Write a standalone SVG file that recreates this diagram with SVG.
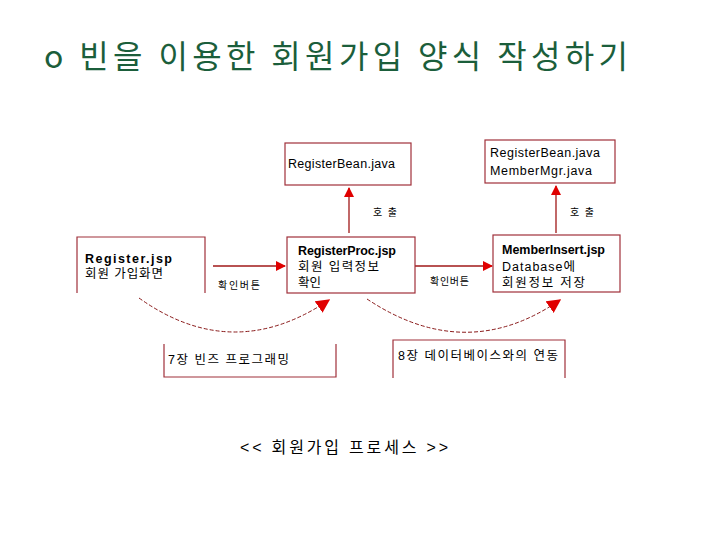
<svg xmlns="http://www.w3.org/2000/svg" width="720" height="540" viewBox="0 0 720 540">
<defs>
<style>
.t{font-family:"Liberation Sans","Noto Sans CJK KR",sans-serif;font-size:12.5px;fill:#000}
.s{font-size:10px}
.b{font-weight:bold}
.box{fill:#fff;stroke:#a0303a;stroke-width:1.2}
.open{fill:none;stroke:#a0303a;stroke-width:1.2}
.arr{stroke:#a01818;stroke-width:1.3;fill:none}
.curve{stroke:#8a1a1a;stroke-width:1;fill:none;stroke-dasharray:4 2}
</style>
<marker id="ah" viewBox="0 0 10 10" refX="9" refY="5" markerWidth="10" markerHeight="10" markerUnits="userSpaceOnUse" orient="auto">
<path d="M0,0 L10,5 L0,10 z" fill="#e00000"/>
</marker>
<marker id="ah2" viewBox="0 0 10 10" refX="9" refY="5" markerWidth="14" markerHeight="14" markerUnits="userSpaceOnUse" orient="auto">
<path d="M0,0 L10,5 L0,10 z" fill="#e00000"/>
</marker>
</defs>
<rect width="720" height="540" fill="#fff"/>
<text x="44" y="68" textLength="584" lengthAdjust="spacing" style="font-family:'Noto Sans CJK KR',sans-serif;font-size:32px;fill:#1b5e3b">o 빈을 이용한 회원가입 양식 작성하기</text>

<g id="connectors">
<line class="arr" x1="349" y1="233" x2="349" y2="188" marker-end="url(#ah)"/>
<line class="arr" x1="556" y1="233" x2="556" y2="186" marker-end="url(#ah)"/>
<line class="arr" x1="213" y1="266" x2="285" y2="266" marker-end="url(#ah)"/>
<line class="arr" x1="415" y1="266" x2="492" y2="266" marker-end="url(#ah)"/>
<path class="curve" d="M139,298 Q233,365 329,300" marker-end="url(#ah2)"/>
<path class="curve" d="M367,299 Q466,365 560,300" marker-end="url(#ah2)"/>
<text class="t s" x="373" y="216" textLength="24">호출</text>
<text class="t s" x="570" y="216" textLength="24">호출</text>
<text class="t s" x="218" y="289" textLength="42">확인버튼</text>
<text class="t s" x="430" y="285" textLength="39">확인버튼</text>
</g>

<g id="registerbean">
<rect class="box" x="285" y="143" width="126" height="42"/>
<text class="t" x="288" y="168" textLength="107">RegisterBean.java</text>
</g>
<g id="beans">
<rect class="box" x="485" y="140" width="130" height="43"/>
<text class="t" x="490" y="157" textLength="110">RegisterBean.java</text>
<text class="t" x="490" y="175" textLength="102">MemberMgr.java</text>
</g>
<g id="register">
<path class="open" d="M77,293 V237 H205 V293"/>
<text class="t b" x="85" y="263" textLength="87">Register.jsp</text>
<text class="t" x="85" y="278" textLength="78">회원 가입화면</text>
</g>
<g id="registerproc">
<rect class="box" x="287" y="237" width="128" height="56"/>
<text class="t b" x="298" y="255" textLength="98">RegisterProc.jsp</text>
<text class="t" x="298" y="271" textLength="81">회원 입력정보</text>
<text class="t" x="298" y="287">확인</text>
</g>
<g id="memberinsert">
<rect class="box" x="493" y="235" width="127" height="57"/>
<text class="t b" x="502" y="254" textLength="103">MemberInsert.jsp</text>
<text class="t" x="502" y="271" textLength="73">Database에</text>
<text class="t" x="502" y="287" textLength="83">회원정보 저장</text>
</g>
<g id="ch7">
<path class="open" d="M164,344 V377 H336 V344"/>
<text class="t" x="168" y="364" textLength="121">7장 빈즈 프로그래밍</text>
</g>
<g id="ch8">
<path class="open" d="M393,378 V340 H565 V378"/>
<text class="t" x="398" y="360" textLength="160">8장 데이터베이스와의 연동</text>
</g>
<text x="240" y="453" textLength="208" lengthAdjust="spacing" style="font-family:'Liberation Sans','Noto Sans CJK KR',sans-serif;font-size:16px;fill:#000">&lt;&lt; 회원가입 프로세스 &gt;&gt;</text>
</svg>
